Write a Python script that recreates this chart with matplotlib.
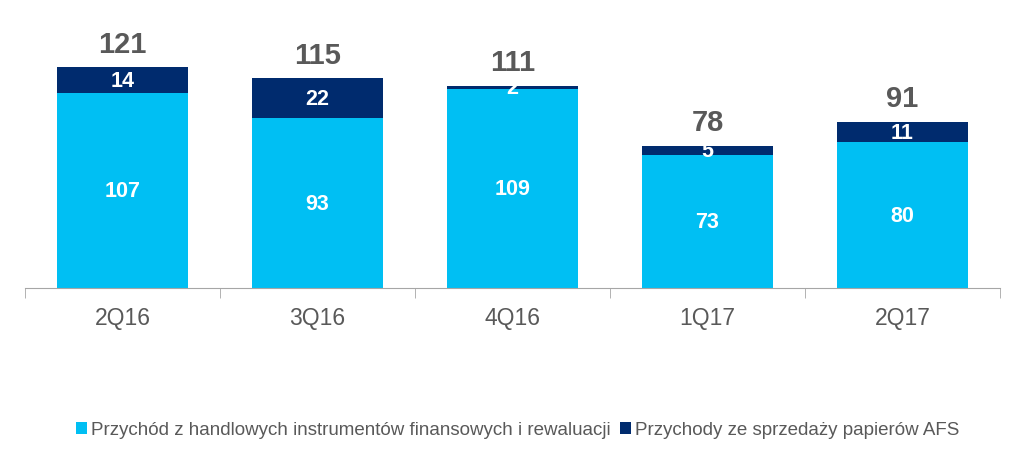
import numpy as np
import matplotlib.pyplot as plt

plt.rcParams['font.family'] = ['Liberation Sans', 'DejaVu Sans']

quarters = ["2Q16", "3Q16", "4Q16", "1Q17", "2Q17"]
trading = [107, 93, 109, 73, 80]   # Przychód z handlowych instrumentów...
afs = [14, 22, 2, 5, 11]           # Przychody ze sprzedaży papierów AFS
totals = [121, 115, 111, 78, 91]

light = "#00BFF3"
dark = "#002B6E"
grey = "#595959"

fig = plt.figure(figsize=(10.24, 4.6), dpi=100)
ax = fig.add_axes([25 / 1024, (460 - 289) / 460, 975 / 1024, 279 / 460])

x = np.arange(len(quarters))
b1 = ax.bar(x, trading, width=0.67, color=light, label="Przychód z handlowych instrumentów finansowych i rewaluacji")
b2 = ax.bar(x, afs, width=0.67, bottom=trading, color=dark, label="Przychody ze sprzedaży papierów AFS")

for i in range(len(quarters)):
    ax.text(x[i], trading[i] / 2, str(trading[i]), ha="center", va="center",
            color="white", fontsize=15.5, fontweight="bold")
    ax.text(x[i], trading[i] + afs[i] / 2, str(afs[i]), ha="center", va="center",
            color="white", fontsize=15.5, fontweight="bold")
    ax.text(x[i], totals[i] + 13, str(totals[i]), ha="center", va="center",
            color=grey, fontsize=21, fontweight="bold")

ax.set_xlim(-0.5, len(quarters) - 0.5)
ax.set_ylim(0, 153)
for s in ["top", "right", "left"]:
    ax.spines[s].set_visible(False)
ax.spines["bottom"].set_color("#A6A6A6")
ax.set_yticks([])
ax.set_xticks(x)
ax.set_xticklabels(quarters, fontsize=16.5, color=grey)
ax.tick_params(axis="x", which="major", length=0, pad=13)
ax.set_xticks(np.arange(len(quarters) + 1) - 0.5, minor=True)
ax.tick_params(axis="x", which="minor", length=7, color="#A6A6A6")

leg = fig.legend(handles=[b1, b2], loc="center", bbox_to_anchor=(0.506, 1 - 431 / 460),
                 ncol=2, frameon=False, fontsize=13.5, handlelength=0.55, handleheight=0.55,
                 handletextpad=0.25, columnspacing=0.5, labelcolor=grey)

fig.savefig("out.png", dpi=100)
